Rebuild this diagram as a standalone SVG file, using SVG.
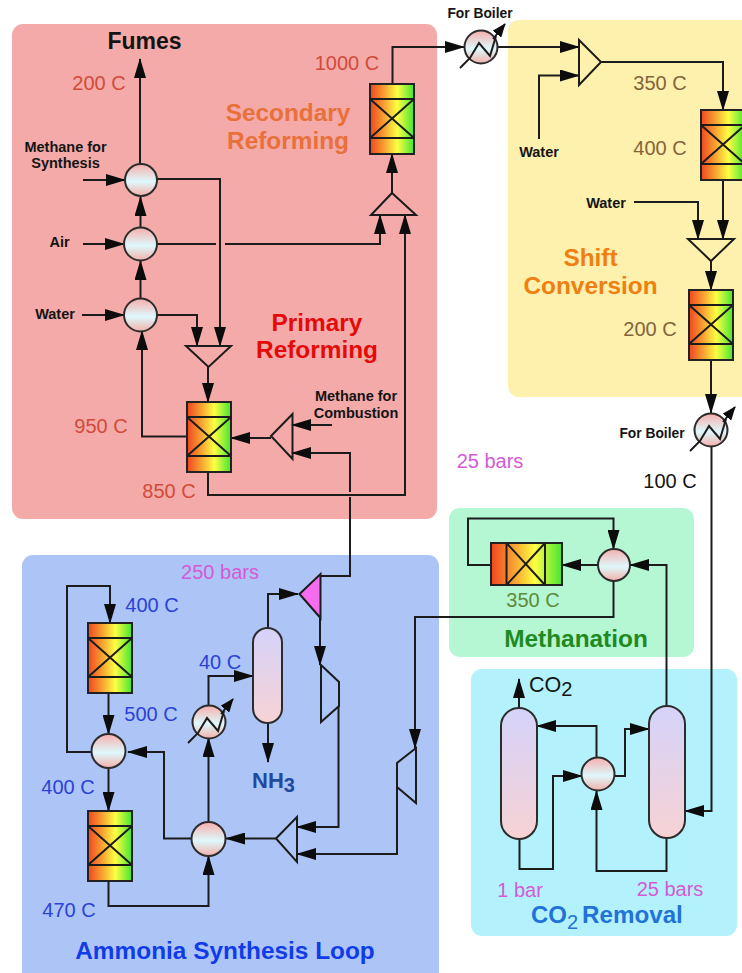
<svg xmlns="http://www.w3.org/2000/svg" xmlns:xlink="http://www.w3.org/1999/xlink" width="742" height="973" viewBox="0 0 742 973">
<style>
text{font-family:"Liberation Sans",Arial,sans-serif;text-anchor:middle}
.l{fill:none;stroke:#1c1c1c;stroke-width:2;stroke-linejoin:miter}
.a{marker-end:url(#ah)}
.tri{fill:none;stroke:#1c1c1c;stroke-width:2;stroke-linejoin:miter}
.mix{fill:url(#gc);stroke:#2c2c2c;stroke-width:2}
.ves{fill:url(#gv);stroke:#2c2c2c;stroke-width:2}
.b{font-weight:bold;fill:#141414}
.s{font-size:14.5px}
.t{font-size:20px}
.h{font-size:24.4px;font-weight:bold}
.red{fill:#d14b3b}.brn{fill:#84633c}.blu{fill:#2a42d8}.mag{fill:#d45ad8}.grn{fill:#5e8a3c}
</style>
<defs>
<linearGradient id="gr"><stop offset="0" stop-color="#f0451f"/><stop offset=".32" stop-color="#f7a032"/><stop offset=".62" stop-color="#ffff42"/><stop offset="1" stop-color="#42e632"/></linearGradient>
<linearGradient id="gc" x1="0" y1="0" x2="0" y2="1"><stop offset="0" stop-color="#f6aeac"/><stop offset=".55" stop-color="#def8fb"/><stop offset="1" stop-color="#f3b0aa"/></linearGradient>
<linearGradient id="gv" x1="0" y1="0" x2="0" y2="1"><stop offset="0" stop-color="#d5d3fb"/><stop offset="1" stop-color="#f7d2d4"/></linearGradient>
<marker id="ah" viewBox="0 0 20 12" refX="19" refY="6" markerWidth="20" markerHeight="12" markerUnits="userSpaceOnUse" orient="auto"><path d="M0,0 L20,6 L0,12 Z" fill="#0c0c0c"/></marker>
<marker id="as" viewBox="0 0 14 11" refX="13" refY="5.500" markerWidth="14" markerHeight="11" markerUnits="userSpaceOnUse" orient="auto"><path d="M0,0 L14,5.500 L0,11 Z" fill="#0c0c0c"/></marker>
<g id="reactor">
<rect x="0" y="0" width="44" height="70" fill="url(#gr)" stroke="#222" stroke-width="2"/>
<path d="M0,15 H44 M0,54 H44 M0,15 L44,54 M44,15 L0,54" fill="none" stroke="#1c1c1c" stroke-width="2"/>
</g>
<g id="hx">
<circle class="mix" cx="0" cy="0" r="16.500"/>
<path d="M-21,21 L-11,11 L-2,-4 L9,9 L15,-11" fill="none" stroke="#1c1c1c" stroke-width="2"/>
<path d="M12,-8 L24,-23" fill="none" stroke="#1c1c1c" stroke-width="2" marker-end="url(#as)"/>
</g>
</defs>

<g id="panels">
<rect x="12" y="24" width="425" height="495" rx="11" fill="#f4aaa8"/>
<rect x="22" y="555" width="417" height="430" rx="11" fill="#adc4f7"/>
<rect x="508" y="20" width="250" height="377" rx="11" fill="#fdf1ad"/>
<rect x="449" y="508" width="245" height="149" rx="11" fill="#b5f7d3"/>
<rect x="471" y="669" width="266" height="267" rx="11" fill="#b3f2fc"/>
</g>

<g id="connectors">
<path class="l a" d="M140,164 V59"/>
<path class="l a" d="M83,180 H125"/>
<path class="l a" d="M140.500,228 V197"/>
<path class="l a" d="M140.500,299 V261"/>
<path class="l a" d="M83,244 H124"/>
<path class="l a" d="M82,315 H124"/>
<path class="l a" d="M157,179 H220 V346"/>
<path class="l a" d="M156,315 H197 V346"/>
<path class="l" d="M156,244 H216"/>
<path class="l a" d="M225,244 H380 V215"/>
<path class="l a" d="M187,436.500 H142 V331"/>
<path class="l a" d="M208,367 V402"/>
<path class="l a" d="M332,425 H292"/>
<path class="l" d="M320,576 H350 V497"/>
<path class="l a" d="M350,492 V453 H292"/>
<path class="l a" d="M271,438 H231"/>
<path class="l a" d="M208,472 V495 H405 V215"/>
<path class="l a" d="M392,193 V154"/>
<path class="l a" d="M392.500,84 V47 H464"/>
<path class="l a" d="M498,47 H579"/>
<path class="l a" d="M539,139 V75.500 H579"/>
<path class="l a" d="M601,62 H723 V110"/>
<path class="l a" d="M723,180 V239"/>
<path class="l a" d="M634,202 H698 V239"/>
<path class="l a" d="M711,261 V290"/>
<path class="l a" d="M711,360 V413"/>
<path class="l a" d="M711.500,447 V811 H685"/>
<path class="l a" d="M666.500,706 V565 H630"/>
<path class="l a" d="M598,565 H562"/>
<path class="l a" d="M491,565 H468 V518.500 H613.500 V549"/>
<path class="l a" d="M613.500,581 V617 H415 V748"/>
<path class="l a" d="M397,787 V854 H297"/>
<path class="l a" d="M320,618 V665"/>
<path class="l a" d="M338.500,706 V827 H297"/>
<path class="l a" d="M276,838.500 H226"/>
<path class="l a" d="M208.500,822 V738"/>
<path class="l a" d="M208.500,705 V676 H253"/>
<path class="l a" d="M268,628 V594 H298"/>
<path class="l a" d="M268,723 V762"/>
<path class="l a" d="M192,838.500 H164 V752 H128"/>
<path class="l a" d="M92,752 H67 V586 H110 V623"/>
<path class="l a" d="M108.500,693 V734"/>
<path class="l a" d="M108.500,768 V811"/>
<path class="l a" d="M108.500,881 V906 H208.500 V856"/>
<path class="l a" d="M519,708 V679"/>
<path class="l a" d="M519.500,839 V869 H553 V776 H582"/>
<path class="l a" d="M596.500,758 V726 H537"/>
<path class="l a" d="M614,776 H625 V729 H649"/>
<path class="l a" d="M666.500,838 V871 H596.500 V791"/>
</g>

<g id="n-fumes-mix"><circle class="mix" cx="141" cy="180" r="16"/></g>
<g id="n-air-mix"><circle class="mix" cx="140.500" cy="244" r="16.500"/></g>
<g id="n-water-mix"><circle class="mix" cx="140.500" cy="315" r="16.500"/></g>
<g id="n-primary-reactor" transform="translate(187,402)"><use href="#reactor"/></g>
<g id="n-primary-feed"><path class="tri" d="M186,346 H231 L208.500,367 Z"/></g>
<g id="n-combustion-feed"><path class="tri" d="M271,436 L292.500,414 V459 Z"/></g>
<g id="n-secondary-reactor" transform="translate(370,84)"><use href="#reactor"/></g>
<g id="n-secondary-feed"><path class="tri" d="M392,193 L416,215 H371 Z"/></g>
<g id="n-boiler-1" transform="translate(481,47)"><use href="#hx"/></g>
<g id="n-shift-feed-1"><path class="tri" d="M579,40 L601,62 L579,85 Z"/></g>
<g id="n-shift-reactor-1" transform="translate(701,110)"><use href="#reactor"/></g>
<g id="n-shift-feed-2"><path class="tri" d="M688,239 H734 L711,261 Z"/></g>
<g id="n-shift-reactor-2" transform="translate(689,290)"><use href="#reactor"/></g>
<g id="n-boiler-2" transform="translate(711,430)"><use href="#hx"/></g>
<g id="n-methanation-reactor">
<rect x="491" y="543" width="71" height="42" fill="url(#gr)" stroke="#222" stroke-width="2"/>
<path d="M506.500,543 V585 M545,543 V585 M506.500,543 L545,585 M545,543 L506.500,585" fill="none" stroke="#1c1c1c" stroke-width="2"/>
</g>
<g id="n-methanation-mix"><circle class="mix" cx="614" cy="565" r="16"/></g>
<g id="n-ammonia-reactor-1" transform="translate(88,623)"><use href="#reactor"/></g>
<g id="n-ammonia-reactor-2" transform="translate(88,811)"><use href="#reactor"/></g>
<g id="n-ammonia-mix-1"><circle class="mix" cx="108.500" cy="751" r="17"/></g>
<g id="n-ammonia-mix-2"><circle class="mix" cx="208.500" cy="839" r="17"/></g>
<g id="n-ammonia-cooler" transform="translate(209,722)"><use href="#hx"/></g>
<g id="n-separator"><rect class="ves" x="253" y="628" width="29" height="95" rx="14.500"/></g>
<g id="n-purge"><path d="M299.500,594 L320.500,574 V618 Z" fill="#f76cef" stroke="#1c1c1c" stroke-width="2"/></g>
<g id="n-compressor-1"><path class="tri" d="M321,665 L339,682 V706 L321,722 Z"/></g>
<g id="n-compressor-2"><path class="tri" d="M416,748 L397,763 V787 L416,803 Z"/></g>
<g id="n-ammonia-feed"><path class="tri" d="M276,838.500 L297,817 V862 Z"/></g>
<g id="n-co2-stripper"><rect class="ves" x="501" y="708" width="36" height="131" rx="18"/></g>
<g id="n-co2-absorber"><rect class="ves" x="649" y="706" width="36" height="132" rx="18"/></g>
<g id="n-co2-mix"><circle class="mix" cx="598" cy="774" r="16.500"/></g>

<g id="labels">
<text class="b" x="144.500" y="49" font-size="23">Fumes</text>
<text class="t red" x="99" y="90">200 C</text>
<text class="t red" x="347" y="70">1000 C</text>
<text class="h" x="288" y="121" fill="#e8703a" font-size="25">Secondary</text>
<text class="h" x="288" y="149" fill="#e8703a">Reforming</text>
<text class="b s" x="65.500" y="152">Methane for</text>
<text class="b s" x="65.500" y="168">Synthesis</text>
<text class="b s" x="59.500" y="247">Air</text>
<text class="b s" x="55" y="319">Water</text>
<text class="h" x="317" y="331" fill="#e40a0a">Primary</text>
<text class="h" x="317" y="358" fill="#e40a0a">Reforming</text>
<text class="b s" x="356" y="401">Methane for</text>
<text class="b s" x="356" y="418">Combustion</text>
<text class="t red" x="101" y="433">950 C</text>
<text class="t red" x="169" y="498">850 C</text>
<text class="t mag" x="220" y="579">250 bars</text>
<text class="b" x="480" y="18" font-size="13.800">For Boiler</text>
<text class="t brn" x="660" y="90">350 C</text>
<text class="t brn" x="660" y="155">400 C</text>
<text class="b s" x="539" y="157">Water</text>
<text class="b s" x="606" y="208">Water</text>
<text class="h" x="590.500" y="266" fill="#f07f12">Shift</text>
<text class="h" x="590.500" y="294" fill="#f07f12">Conversion</text>
<text class="t brn" x="650" y="336">200 C</text>
<text class="b" x="652" y="438" font-size="13.800">For Boiler</text>
<text class="t mag" x="490" y="468">25 bars</text>
<text class="t" x="670" y="488" fill="#141414">100 C</text>
<text class="t grn" x="533" y="607">350 C</text>
<text class="h" x="576" y="647" fill="#1f8a1f" font-size="24.800">Methanation</text>
<text class="t blu" x="152" y="612">400 C</text>
<text class="t blu" x="151" y="721">500 C</text>
<text class="t blu" x="220" y="669">40 C</text>
<text class="t blu" x="68" y="794">400 C</text>
<text class="t blu" x="69" y="917">470 C</text>
<text x="252" y="788" font-size="22" font-weight="bold" fill="#1f4aa0" style="text-anchor:start">NH<tspan font-size="20" dy="4">3</tspan></text>
<text class="h" x="225" y="959" fill="#0f3ce8">Ammonia Synthesis Loop</text>
<text x="529" y="692" font-size="21.500" fill="#141414" style="text-anchor:start">CO<tspan font-size="20" dy="4">2</tspan></text>
<text class="t mag" x="520" y="897">1 bar</text>
<text class="t mag" x="670" y="896">25 bars</text>
<text x="531" y="923" font-size="24" font-weight="bold" fill="#2272d8" style="text-anchor:start">CO<tspan font-size="20" font-weight="normal" dy="6">2</tspan></text>
<text x="582" y="923" font-size="24.200" font-weight="bold" fill="#2272d8" style="text-anchor:start">Removal</text>
</g>
</svg>
